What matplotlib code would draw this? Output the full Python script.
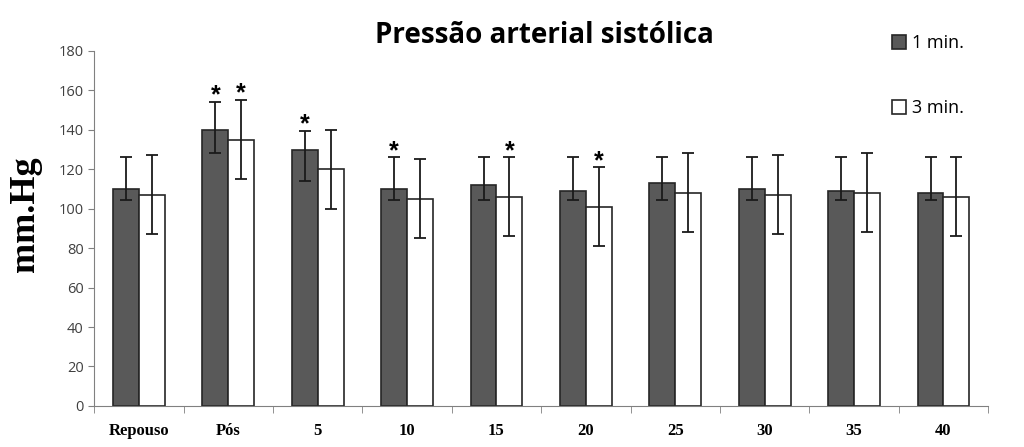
import numpy as np
import matplotlib
matplotlib.use("Agg")
from matplotlib import pyplot as plt

# data
categories = ['Repouso', 'Pós', '5', '10', '15', '20', '25', '30', '35', '40']

min1_mean = [110, 140, 130, 110, 112, 109, 113, 110, 109, 108]
min1_low = [104.5, 128.5, 114, 104.5, 104.5, 104.5, 104.5, 104.5, 104.5, 104.5]
min1_high = [126, 154, 139.5, 126, 126, 126, 126, 126, 126, 126]

min3_mean = [107, 135, 120, 105, 106, 101, 108, 107, 108, 106]
min3_low = [87, 115, 100, 85, 86, 81, 88, 87, 88, 86]
min3_high = [127, 155, 140, 125, 126, 121, 128, 127, 128, 126]

# significance markers (True = asterisk)
min1_sig = [False, True, True, True, False, False, False, False, False, False]
min3_sig = [False, True, False, False, True, True, False, False, False, False]

x = np.arange(len(categories))
w = 0.29

fig = plt.figure(figsize=(10.24, 4.47), dpi=100)
ax = fig.add_axes([0.092, 0.092, 0.873, 0.794])

m1 = np.array(min1_mean)
m3 = np.array(min3_mean)
err1 = [m1 - np.array(min1_low), np.array(min1_high) - m1]
err3 = [m3 - np.array(min3_low), np.array(min3_high) - m3]

ekw = dict(ecolor='#1a1a1a', elinewidth=1.3, capsize=4, capthick=1.3)
ax.bar(x - w / 2, m1, w, color='#595959', edgecolor='#262626', linewidth=1.2,
       yerr=err1, error_kw=ekw, label='1 min.')
ax.bar(x + w / 2, m3, w, color='white', edgecolor='#262626', linewidth=1.2,
       yerr=err3, error_kw=ekw, label='3 min.')

# asterisks
for i in x:
    if min1_sig[i]:
        ax.annotate('*', (i - w / 2, min1_high[i]), xytext=(0, -4), textcoords='offset points',
                    ha='center', va='bottom', fontsize=18, fontweight='bold',
                    family='Liberation Sans')
    if min3_sig[i]:
        ax.annotate('*', (i + w / 2, min3_high[i]), xytext=(0, -4), textcoords='offset points',
                    ha='center', va='bottom', fontsize=18, fontweight='bold',
                    family='Liberation Sans')

ax.set_xlim(-0.5, len(categories) - 0.5)
ax.set_ylim(0, 180)
ax.set_yticks(np.arange(0, 181, 20))
ax.tick_params(axis='y', labelsize=10.5, colors='#404040', length=4, direction='out')
for lab in ax.get_yticklabels():
    lab.set_family('Open Sans')

ax.set_xticks(x)
ax.set_xticklabels(categories, family='Liberation Serif', fontweight='bold', fontsize=12)
ax.tick_params(axis='x', length=0, pad=12)
ax.set_xticks(np.arange(-0.5, len(categories)), minor=True)
ax.tick_params(axis='x', which='minor', length=5, color='#808080')

for s in ['top', 'right']:
    ax.spines[s].set_visible(False)
for s in ['left', 'bottom']:
    ax.spines[s].set_color('#808080')
ax.tick_params(axis='y', color='#808080')

ax.set_ylabel('mm.Hg', family='Liberation Serif', fontweight='bold', fontsize=26)
ax.yaxis.set_label_coords(-0.058, 0.54)

fig.text(0.532, 0.92, 'Pressão arterial sistólica', ha='center', va='center',
         family='Open Sans', fontweight='bold', fontsize=20)

fig.legend(loc='upper left', bbox_to_anchor=(0.855, 0.96), frameon=False,
           prop={'family': 'Open Sans', 'size': 13}, handlelength=0.8, handleheight=0.8,
           handletextpad=0.3, labelspacing=2.6)

fig.savefig('out.png', dpi=100)
